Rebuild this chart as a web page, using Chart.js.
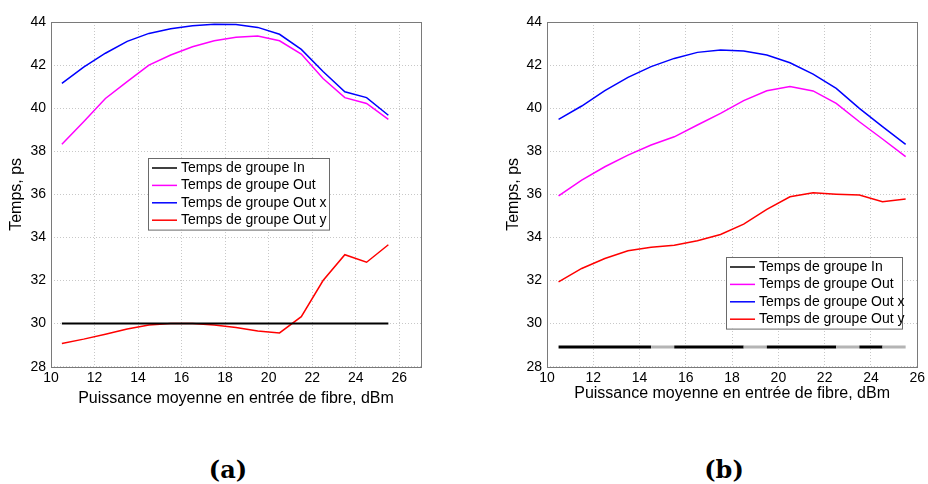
<!DOCTYPE html>
<html>
<head>
<meta charset="utf-8">
<script src="https://cdn.jsdelivr.net/npm/chart.js@4.4.1/dist/chart.umd.min.js"></script>
<style>
  body { margin: 0; background: #fff; }
  #wrap { position: relative; width: 928px; height: 484px; overflow: hidden; }
  canvas { position: absolute; top: 0; }
  .caption { position: absolute; top: 458px; width: 100px; text-align: center; font: bold 24px "DejaVu Serif"; line-height: 24px; color: #000; }
</style>
</head>
<body>
<div id="wrap">
  <canvas id="chartA" width="464" height="420" style="left:0"></canvas>
  <canvas id="chartB" width="464" height="420" style="left:464px"></canvas>
  <div class="caption" style="left:178px">(a)</div>
  <div class="caption" style="left:674px">(b)</div>
</div>
<script>
// puissance moyenne (dBm)
const puissance = [10.5, 11.5, 12.5, 13.5, 14.5, 15.5, 16.5, 17.5, 18.5, 19.5, 20.5, 21.5, 22.5, 23.5, 24.5, 25.5];
const xTicks = [10, 12, 14, 16, 18, 20, 22, 24, 26];
const yTicks = [28, 30, 32, 34, 36, 38, 40, 42, 44];
const labels = ['Temps de groupe In', 'Temps de groupe Out', 'Temps de groupe Out x', 'Temps de groupe Out y'];

// (a)
const inA   = [30, 30, 30, 30, 30, 30, 30, 30, 30, 30, 30, 30, 30, 30, 30, 30];
const outA  = [38.33, 39.37, 40.45, 41.23, 42.0, 42.47, 42.85, 43.13, 43.29, 43.35, 43.13, 42.51, 41.38, 40.49, 40.22, 39.48];
const outXA = [41.15, 41.9, 42.55, 43.1, 43.47, 43.69, 43.83, 43.9, 43.88, 43.75, 43.43, 42.73, 41.7, 40.76, 40.49, 39.67];
const outYA = [29.08, 29.28, 29.51, 29.75, 29.94, 30.0, 30.0, 29.94, 29.82, 29.66, 29.57, 30.32, 32.0, 33.2, 32.85, 33.66];

// (b)
const inB   = [28.92, 28.92, 28.92, 28.92, 28.92, 28.92, 28.92, 28.92, 28.92, 28.92, 28.92, 28.92, 28.92, 28.92, 28.92, 28.92];
const outB  = [35.93, 36.66, 37.28, 37.82, 38.29, 38.67, 39.22, 39.76, 40.35, 40.81, 41.0, 40.8, 40.22, 39.37, 38.57, 37.75];
const outXB = [39.48, 40.1, 40.81, 41.43, 41.93, 42.31, 42.59, 42.7, 42.65, 42.47, 42.11, 41.58, 40.92, 39.99, 39.14, 38.32];
const outYB = [31.94, 32.56, 33.02, 33.38, 33.54, 33.64, 33.85, 34.14, 34.62, 35.3, 35.89, 36.07, 36.01, 35.97, 35.66, 35.78];

const pts = ys => puissance.map((x, i) => ({ x: x, y: ys[i] }));

// cadre + legende facon matlab
const matlabBox = {
    id: 'matlabBox',
    afterDraw(chart, args, opts) {
        const ctx = chart.ctx;
        const a = chart.chartArea;
        ctx.save();
        ctx.strokeStyle = '#7a7a7a';
        ctx.lineWidth = 1;
        ctx.strokeRect(Math.round(a.left) + 0.5, Math.round(a.top) + 0.5, Math.round(a.right - a.left), Math.round(a.bottom - a.top));

        // legende
        const lx = opts.x, ly = opts.y, rowH = 17.4;
        const ds = chart.data.datasets;
        ctx.fillStyle = '#fff';
        ctx.fillRect(lx, ly, opts.w, rowH * ds.length + 2);
        ctx.strokeStyle = '#6a6a6a';
        ctx.strokeRect(lx + 0.5, ly + 0.5, opts.w, rowH * ds.length + 2);
        ctx.font = '14px "Liberation Sans", Arial, sans-serif';
        ctx.textBaseline = 'middle';
        ds.forEach((d, i) => {
            const cy = ly + 10 + i * rowH;
            ctx.strokeStyle = d.borderColor;
            ctx.lineWidth = 1.5;
            ctx.beginPath();
            ctx.moveTo(lx + 4, cy);
            ctx.lineTo(lx + 29, cy);
            ctx.stroke();
            ctx.fillStyle = '#000';
            ctx.fillText(d.label, lx + 33, cy);
        });
        ctx.restore();
    }
};

function makeChart(id, series, o) {
    const colors = ['#000000', '#ff00ff', '#0000ff', '#ff0000'];
    return new Chart(document.getElementById(id).getContext('2d'), {
        type: 'line',
        data: {
            datasets: series.map((s, i) => ({
                label: labels[i],
                data: pts(s),
                borderColor: colors[i],
                borderWidth: i === 0 ? o.inWidth : 1.5,
                pointRadius: 0,
                tension: 0,
                fill: false,
                segment: i === 0 && o.gaps ? {
                    borderColor: c => o.gaps.includes(c.p0DataIndex) ? '#b4b4b4' : '#000000'
                } : undefined
            }))
        },
        options: {
            responsive: false,
            animation: false,
            layout: { padding: { left: 0, top: 22, right: o.right, bottom: 0 } },
            plugins: {
                legend: { display: false },
                tooltip: { enabled: false },
                matlabBox: o.legend
            },
            scales: {
                x: {
                    type: 'linear',
                    min: 10,
                    max: o.xMax,
                    afterBuildTicks: s => { s.ticks = xTicks.map(v => ({ value: v })); },
                    afterFit: s => { s.height = 53.3; },
                    grid: { color: '#c8c8c8', lineWidth: 1, drawTicks: false },
                    border: { display: false, dash: [1, 2] },
                    ticks: { color: '#000', padding: 3, maxRotation: 0, font: { family: '"Liberation Sans", Arial', size: 14 } },
                    title: { display: true, text: 'Puissance moyenne en entrée de fibre, dBm', color: '#000',
                             padding: { top: 0, bottom: o.xTitlePad }, font: { family: '"Liberation Sans", Arial', size: 16 } }
                },
                y: {
                    type: 'linear',
                    min: 28,
                    max: 44,
                    afterBuildTicks: s => { s.ticks = yTicks.map(v => ({ value: v })); },
                    afterFit: s => { s.width = o.yWidth; },
                    grid: { color: '#c8c8c8', lineWidth: 1, drawTicks: false },
                    border: { display: false, dash: [1, 2] },
                    ticks: { color: '#000', padding: 5, font: { family: '"Liberation Sans", Arial', size: 14 } },
                    title: { display: true, text: 'Temps, ps', color: '#000',
                             padding: { top: o.yTitlePad, bottom: 0 }, font: { family: '"Liberation Sans", Arial', size: 16 } }
                }
            }
        },
        plugins: [matlabBox]
    });
}

makeChart('chartA', [inA, outA, outXA, outYA], {
    xMax: 27, right: 43, yWidth: 51, yTitlePad: 7, xTitlePad: 12, inWidth: 2,
    legend: { x: 148, y: 158, w: 181 }
});

makeChart('chartB', [inB, outB, outXB, outYB], {
    xMax: 26, right: 9, yWidth: 83, yTitlePad: 40, xTitlePad: 17, inWidth: 3,
    gaps: [4, 8, 12, 14],
    legend: { x: 262, y: 257, w: 176 }
});
</script>
</body>
</html>
